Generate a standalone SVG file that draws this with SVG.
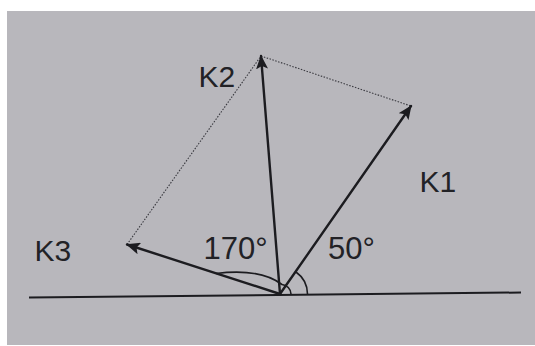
<svg xmlns="http://www.w3.org/2000/svg" width="535" height="346" viewBox="0 0 535 346">
<defs>
<style>
.lbl{font-family:"Liberation Sans",Arial,sans-serif;font-size:30px;fill:#222226}
.ang{font-size:31px}
.vec{stroke:#1c1c20;stroke-width:2.4;fill:none;stroke-linecap:round}
.dot{stroke:#3a3a40;stroke-width:1.1;stroke-dasharray:1.5 1.5;fill:none}
.arc{stroke:#1c1c20;stroke-width:1.6;fill:none}
</style>
<marker id="ah" viewBox="0 0 14 12" refX="13" refY="6" markerWidth="14" markerHeight="12" markerUnits="userSpaceOnUse" orient="auto">
<path d="M0,0 L14,6 L0,12 L3,6 Z" fill="#1c1c20"/>
</marker>
</defs>
<rect x="0" y="0" width="535" height="346" fill="#ffffff"/>
<rect x="7" y="11" width="528" height="334" fill="#b8b7bc"/>
<g id="baseline">
<line x1="29" y1="297.5" x2="521" y2="292.5" stroke="#1c1c20" stroke-width="2"/>
</g>
<g id="parallelogram">
<line class="dot" x1="127" y1="244.5" x2="261" y2="56"/>
<line class="dot" x1="261" y1="56" x2="411" y2="106"/>
</g>
<g id="connectors">
<line class="vec" x1="280" y1="294" x2="411" y2="106" marker-end="url(#ah)"/>
<line class="vec" x1="280" y1="294" x2="261" y2="56" marker-end="url(#ah)"/>
<line class="vec" x1="280" y1="294" x2="127" y2="244.5" marker-end="url(#ah)"/>
</g>
<g id="angles">
<path class="arc" d="M307.5,294 A27.5,27.5 0 0 0 296,272"/>
<path class="arc" d="M216,273.5 Q260,268 282,284.5 A10,10 0 0 1 291,294"/>
</g>
<g id="K1"><text class="lbl" x="419.5" y="192">K1</text></g>
<g id="K2"><text class="lbl" x="198.5" y="87">K2</text></g>
<g id="K3"><text class="lbl" x="34.5" y="261">K3</text></g>
<g id="a170"><text class="lbl ang" x="203.5" y="259">170°</text></g>
<g id="a50"><text class="lbl ang" x="328" y="259">50°</text></g>
</svg>
